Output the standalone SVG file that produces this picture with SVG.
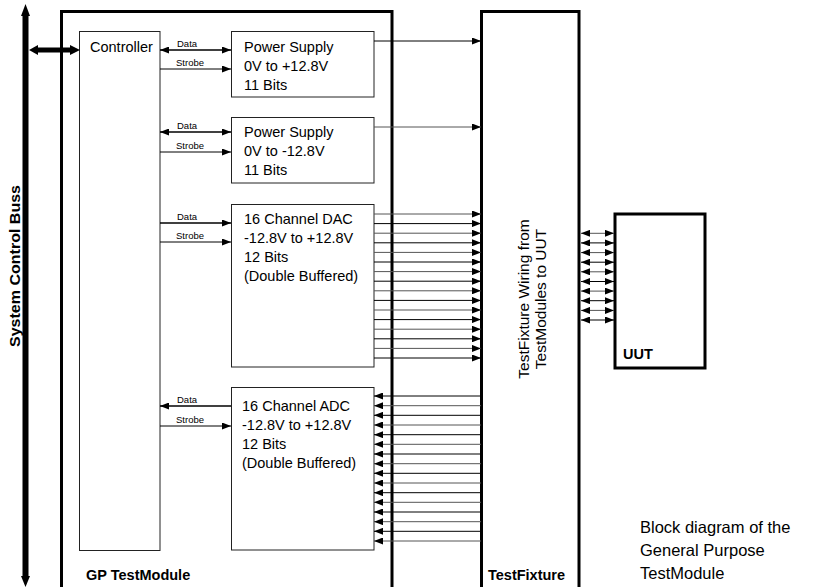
<svg xmlns="http://www.w3.org/2000/svg" width="823" height="587" viewBox="0 0 823 587">
<style>
.frame{fill:none;stroke:#000;stroke-width:3}
.box{fill:#fff;stroke:#222;stroke-width:1}
.t{font-family:"Liberation Sans",Arial,sans-serif;font-size:14.5px;fill:#000}
.s{font-family:"Liberation Sans",Arial,sans-serif;font-size:9.5px;fill:#000}
.b{font-weight:bold}
.w{stroke:#000;stroke-width:1;fill:none}
.d{stroke:#000;stroke-width:1.6;fill:none}
.g{stroke:#555;stroke-width:1;fill:none}
</style>
<defs>
<marker id="ah" markerUnits="userSpaceOnUse" viewBox="0 0 9 7" markerWidth="9" markerHeight="7" refX="9" refY="3.5" orient="auto-start-reverse"><path d="M0,0 L9,3.5 L0,7z" fill="#000"/></marker>
<marker id="as" markerUnits="userSpaceOnUse" viewBox="0 0 9 7" markerWidth="9" markerHeight="7" refX="9" refY="3.5" orient="auto-start-reverse"><path d="M0,0 L9,3.5 L0,7z" fill="#000"/></marker>
</defs>

<g id="gp-testmodule">
<rect class="frame" x="61.5" y="11.5" width="330.5" height="600"/>
<text class="t b" x="86" y="580">GP TestModule</text>
</g>
<g id="testfixture">
<rect class="frame" x="481.5" y="11.5" width="97.5" height="600"/>
<text class="t b" x="488" y="580">TestFixture</text>
<text class="t" style="font-size:15.5px" transform="translate(529,299) rotate(-90)" text-anchor="middle">TestFixture Wiring from</text>
<text class="t" style="font-size:15.5px" transform="translate(546,299) rotate(-90)" text-anchor="middle">TestModules to UUT</text>
</g>
<g id="uut">
<rect class="frame" x="615" y="214" width="90" height="154"/>
<text class="t b" x="623" y="359">UUT</text>
</g>
<g id="system-control-buss">
<rect x="22.5" y="15" width="6" height="562" fill="#000"/>
<polygon points="25.5,4 30,16 21,16" fill="#000"/>
<polygon points="25.5,587 30,576 21,576" fill="#000"/>
<text class="t b" transform="translate(20,266) rotate(-90)" text-anchor="middle" textLength="162" lengthAdjust="spacingAndGlyphs">System Control Buss</text>
</g>
<g id="controller">
<rect class="box" x="79.5" y="31.5" width="80.5" height="519"/>
<text class="t" x="90" y="52">Controller</text>
</g>
<g id="power-supply-1">
<rect class="box" x="231.5" y="31.5" width="142.5" height="65.5"/>
<text class="t" x="244" y="52">Power Supply</text>
<text class="t" x="244" y="71">0V to +12.8V</text>
<text class="t" x="244" y="90">11 Bits</text>
</g>
<g id="power-supply-2">
<rect class="box" x="231.5" y="117.5" width="142.5" height="65.5"/>
<text class="t" x="244" y="137">Power Supply</text>
<text class="t" x="244" y="156">0V to -12.8V</text>
<text class="t" x="244" y="175">11 Bits</text>
</g>
<g id="dac">
<rect class="box" x="231.5" y="204.5" width="142.5" height="162.5"/>
<text class="t" x="244" y="224">16 Channel DAC</text>
<text class="t" x="244" y="243">-12.8V to +12.8V</text>
<text class="t" x="244" y="262">12 Bits</text>
<text class="t" x="244" y="281">(Double Buffered)</text>
</g>
<g id="adc">
<rect class="box" x="231.5" y="387.5" width="142.5" height="162.5"/>
<text class="t" x="242" y="411">16 Channel ADC</text>
<text class="t" x="242" y="430">-12.8V to +12.8V</text>
<text class="t" x="242" y="449">12 Bits</text>
<text class="t" x="242" y="468">(Double Buffered)</text>
</g>

<g id="connectors">
<rect x="36" y="47.5" width="36" height="5" fill="#000"/>
<polygon points="29,50 38,45 38,55" fill="#000"/>
<polygon points="80,50 70,45 70,55" fill="#000"/>
<g id="labels">
<text class="s" x="177" y="47">Data</text><text class="s" x="176" y="66">Strobe</text>
<text class="s" x="177" y="129">Data</text><text class="s" x="176" y="149">Strobe</text>
<text class="s" x="177" y="220">Data</text><text class="s" x="176" y="239">Strobe</text>
<text class="s" x="177" y="403">Data</text><text class="s" x="176" y="423">Strobe</text>
</g>
<line class="d" x1="160" y1="50" x2="231" y2="50" marker-start="url(#ah)" marker-end="url(#ah)"/>
<line class="w" x1="160" y1="69" x2="231" y2="69" marker-end="url(#ah)"/>
<line class="d" x1="160" y1="132" x2="231" y2="132" marker-start="url(#ah)" marker-end="url(#ah)"/>
<line class="w" x1="160" y1="152" x2="231" y2="152" marker-end="url(#ah)"/>
<line class="d" x1="160" y1="223" x2="231" y2="223" marker-end="url(#ah)"/>
<line class="w" x1="160" y1="242" x2="231" y2="242" marker-end="url(#ah)"/>
<line class="d" x1="231" y1="406" x2="160" y2="406" marker-end="url(#ah)"/>
<line class="w" x1="160" y1="426" x2="231" y2="426" marker-end="url(#ah)"/>
<line class="w" x1="374" y1="41" x2="481" y2="41" marker-end="url(#ah)"/>
<line class="g" x1="374" y1="127" x2="481" y2="127" marker-end="url(#ah)"/>
<g id="dac-wires">
<line class="g" x1="374" y1="214" x2="481" y2="214" marker-end="url(#as)"/>
<line class="w" x1="374" y1="223.6" x2="481" y2="223.6" marker-end="url(#as)"/>
<line class="g" x1="374" y1="233.2" x2="481" y2="233.2" marker-end="url(#as)"/>
<line class="w" x1="374" y1="242.8" x2="481" y2="242.8" marker-end="url(#as)"/>
<line class="g" x1="374" y1="252.4" x2="481" y2="252.4" marker-end="url(#as)"/>
<line class="w" x1="374" y1="262" x2="481" y2="262" marker-end="url(#as)"/>
<line class="g" x1="374" y1="271.6" x2="481" y2="271.6" marker-end="url(#as)"/>
<line class="w" x1="374" y1="281.2" x2="481" y2="281.2" marker-end="url(#as)"/>
<line class="g" x1="374" y1="290.8" x2="481" y2="290.8" marker-end="url(#as)"/>
<line class="w" x1="374" y1="300.4" x2="481" y2="300.4" marker-end="url(#as)"/>
<line class="g" x1="374" y1="310" x2="481" y2="310" marker-end="url(#as)"/>
<line class="w" x1="374" y1="319.6" x2="481" y2="319.6" marker-end="url(#as)"/>
<line class="g" x1="374" y1="329.2" x2="481" y2="329.2" marker-end="url(#as)"/>
<line class="w" x1="374" y1="338.8" x2="481" y2="338.8" marker-end="url(#as)"/>
<line class="g" x1="374" y1="348.4" x2="481" y2="348.4" marker-end="url(#as)"/>
<line class="w" x1="374" y1="358" x2="481" y2="358" marker-end="url(#as)"/>
</g>
<g id="adc-wires">
<line class="w" x1="481" y1="396" x2="374" y2="396" marker-end="url(#as)"/>
<line class="g" x1="481" y1="405.7" x2="374" y2="405.7" marker-end="url(#as)"/>
<line class="w" x1="481" y1="415.3" x2="374" y2="415.3" marker-end="url(#as)"/>
<line class="g" x1="481" y1="425" x2="374" y2="425" marker-end="url(#as)"/>
<line class="w" x1="481" y1="434.7" x2="374" y2="434.7" marker-end="url(#as)"/>
<line class="g" x1="481" y1="444.3" x2="374" y2="444.3" marker-end="url(#as)"/>
<line class="w" x1="481" y1="454" x2="374" y2="454" marker-end="url(#as)"/>
<line class="g" x1="481" y1="463.7" x2="374" y2="463.7" marker-end="url(#as)"/>
<line class="w" x1="481" y1="473.3" x2="374" y2="473.3" marker-end="url(#as)"/>
<line class="g" x1="481" y1="483" x2="374" y2="483" marker-end="url(#as)"/>
<line class="w" x1="481" y1="492.7" x2="374" y2="492.7" marker-end="url(#as)"/>
<line class="g" x1="481" y1="502.3" x2="374" y2="502.3" marker-end="url(#as)"/>
<line class="w" x1="481" y1="512" x2="374" y2="512" marker-end="url(#as)"/>
<line class="g" x1="481" y1="521.7" x2="374" y2="521.7" marker-end="url(#as)"/>
<line class="w" x1="481" y1="531.3" x2="374" y2="531.3" marker-end="url(#as)"/>
<line class="g" x1="481" y1="541" x2="374" y2="541" marker-end="url(#as)"/>
</g>
<g id="uut-wires">
<line class="g" x1="581" y1="233.3" x2="614" y2="233.3" marker-start="url(#as)" marker-end="url(#as)"/>
<line class="w" x1="581" y1="242.9" x2="614" y2="242.9" marker-start="url(#as)" marker-end="url(#as)"/>
<line class="g" x1="581" y1="252.6" x2="614" y2="252.6" marker-start="url(#as)" marker-end="url(#as)"/>
<line class="w" x1="581" y1="262.2" x2="614" y2="262.2" marker-start="url(#as)" marker-end="url(#as)"/>
<line class="g" x1="581" y1="271.8" x2="614" y2="271.8" marker-start="url(#as)" marker-end="url(#as)"/>
<line class="w" x1="581" y1="281.5" x2="614" y2="281.5" marker-start="url(#as)" marker-end="url(#as)"/>
<line class="g" x1="581" y1="291.1" x2="614" y2="291.1" marker-start="url(#as)" marker-end="url(#as)"/>
<line class="w" x1="581" y1="300.7" x2="614" y2="300.7" marker-start="url(#as)" marker-end="url(#as)"/>
<line class="g" x1="581" y1="310.4" x2="614" y2="310.4" marker-start="url(#as)" marker-end="url(#as)"/>
<line class="w" x1="581" y1="320" x2="614" y2="320" marker-start="url(#as)" marker-end="url(#as)"/>
</g>
</g>

<g id="caption">
<text class="t" style="font-size:16.5px" x="640" y="533">Block diagram of the</text>
<text class="t" style="font-size:16.5px" x="640" y="556">General Purpose</text>
<text class="t" style="font-size:16.5px" x="640" y="579">TestModule</text>
</g>
</svg>
